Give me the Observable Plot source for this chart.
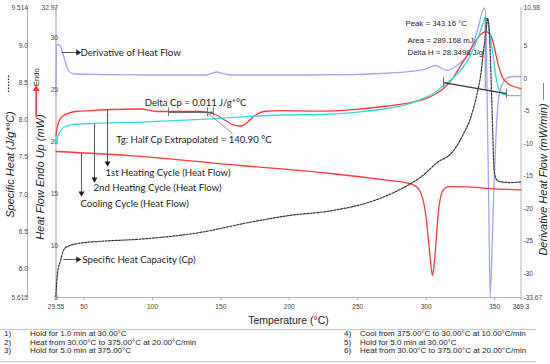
<!DOCTYPE html>
<html><head><meta charset="utf-8">
<script src="https://cdn.jsdelivr.net/npm/d3@7"></script>
<script src="https://cdn.jsdelivr.net/npm/@observablehq/plot@0.6"></script>
<style>
body{margin:0;background:#fff;}
#wrap{position:relative;width:550px;height:364px;overflow:hidden;font-family:"Liberation Sans",Arial,sans-serif;}
#wrap svg{position:absolute;left:0;top:0;}
.foot{position:absolute;font-size:8px;color:#222;white-space:nowrap;line-height:8.5px;}
.hr{position:absolute;left:0;width:536px;height:0;border-top:1.5px solid #c8c8c8;}
</style></head><body><div id="wrap"></div>
<script>
// ---- axis ticks ----
const xTicks = [29.55, 50, 100, 150, 200, 250, 300, 350, 369.3];
const xLabels = ["29.55", "50", "100", "150", "200", "250", "300", "350", "369.3"];
const hfTicks = [5, 10, 15, 20, 25, 30, 32.97];
const hfLabels = ["5", "10", "15", "20", "25", "30", "32.97"];
const cpTicks = [5.615, 6.0, 6.5, 7.0, 7.5, 8.0, 8.5, 9.0, 9.514];
const cpLabels = ["5.615", "6.0", "6.5", "7.0", "7.5", "8.0", "8.5", "9.0", "9.514"];
const derTicks = [-33.67, -30, -25, -20, -15, -10, -5, 0, 5, 10.98];
const derLabels = ["-33.67", "-30", "-25", "-20", "-15", "-10", "-5", "0", "5", "10.98"];

// ---- series (Temperature °C) ----
const heat1T = [29.55, 30.28, 31.38, 32.84, 35.03, 37.95, 43.8, 54.76, 69.37, 91.29, 97.1, 102.3, 135.1, 140.9, 146.1, 153.4, 159.2, 163.6, 167.3, 171.7, 176.0, 181.2, 193.6, 222.8, 246.9, 271.7, 288.5, 303.2, 312.7, 319.3, 325.2, 330.3, 335.4, 339.8, 343.5, 346.4, 348.6, 350.8, 353.0, 355.9, 359.6, 364.0, 369.3];
const heat1HF = [20.6, 21.3, 21.88, 22.26, 22.55, 22.74, 22.94, 23.03, 23.13, 23.18, 23.08, 22.94, 22.94, 22.84, 22.65, 22.07, 21.64, 21.54, 21.68, 22.17, 22.65, 22.94, 23.03, 22.98, 23.13, 23.47, 23.80, 24.38, 25.15, 26.12, 27.37, 28.43, 29.59, 30.36, 30.65, 30.46, 29.78, 28.53, 27.28, 26.22, 25.64, 25.35, 25.15];

const heat2T = [29.55, 30.65, 32.12, 34.3, 37.22, 41.6, 54.76, 91.29, 140.2, 193.6, 222.8, 246.9, 271.7, 283.4, 295.8, 305.4, 312.7, 323.0, 330.3, 336.1, 339.8, 342.0, 343.2, 345.0, 346.4, 348.6, 350.8, 353.0, 356.6, 361.8, 369.3];
const heat2HF = [19.95, 20.43, 20.91, 21.30, 21.54, 21.68, 21.78, 21.92, 22.21, 22.60, 22.65, 22.84, 23.23, 23.52, 24.09, 24.67, 25.44, 26.60, 27.85, 29.49, 30.75, 31.62, 32.0, 31.62, 30.46, 28.63, 26.41, 25.15, 24.62, 24.48, 24.48];

const coolT = [29.55, 84.0, 164.3, 230.1, 273.9, 284.8, 290.0, 294.4, 297.3, 299.5, 301.7, 303.5, 304.6, 306.1, 307.6, 309.0, 310.5, 312.7, 316.4, 330.3, 347.2, 369.3];
const coolHF = [19.08, 18.69, 17.73, 16.96, 16.28, 16.09, 15.90, 15.51, 14.64, 13.20, 10.50, 8.09, 7.12, 8.57, 10.98, 13.39, 14.64, 15.41, 15.70, 15.66, 15.51, 15.37];

const cpT = [29.55, 30.65, 32.84, 35.03, 37.95, 45.26, 62.1, 91.3, 135.1, 169.5, 200.9, 230.1, 262.2, 281.2, 295.8, 310.5, 315.7, 320.0, 327.4, 332.5, 336.9, 339.8, 342.0, 343.9, 344.9, 346.1, 347.5, 348.6, 349.7, 351.5, 354.5, 361.8, 369.3];
const cpV = [5.66, 5.94, 6.11, 6.25, 6.30, 6.34, 6.37, 6.40, 6.49, 6.62, 6.72, 6.78, 6.92, 7.07, 7.23, 7.46, 7.51, 7.59, 7.82, 8.03, 8.33, 8.60, 8.94, 9.23, 9.37, 9.20, 8.53, 7.86, 7.32, 7.20, 7.17, 7.16, 7.17];

const derT = [29.55, 29.77, 30.65, 32.12, 33.57, 35.03, 36.49, 37.95, 40.14, 43.8, 62.06, 98.59, 138.8, 143.2, 146.8, 151.2, 157.0, 208.2, 244.7, 266.6, 288.5, 299.5, 306.8, 310.5, 314.9, 319.3, 325.2, 330.3, 334.7, 338.4, 341.3, 342.8, 343.9, 344.6, 345.7, 346.8, 348.3, 349.7, 351.2, 352.7, 354.5, 356.6, 359.6, 365.4, 369.3];
const derV = [-1.03, 5.13, 5.28, 5.21, 4.67, 3.59, 2.51, 1.59, 0.97, 0.74, 0.66, 0.59, 0.59, 0.82, 1.05, 0.82, 0.59, 0.59, 0.66, 0.82, 1.13, 1.51, 2.05, 1.74, 1.28, 1.59, 2.51, 3.59, 5.59, 8.21, 10.52, 10.9, 7.44, -3.34, -18.74, -33.52, -24.89, -15.66, -7.96, -3.34, -1.49, -0.41, 0.20, 0.36, 0.36];

// ---- annotations ----
const labelTexts = ["Derivative of Heat Flow", "1st Heating Cycle (Heat Flow)", "2nd Heating Cycle (Heat Flow)", "Cooling Cycle (Heat Flow)", "Specific Heat Capacity (Cp)"];
const labelT = [47.45, 65.7, 56.95, 47.45, 48.9];
const labelHF = [28.63, 17.05, 15.56, 14.06, 8.66];
// pointer arrows: from (x1,y1) to head (x2,y2)
const ptrX1 = [33.57, 67.18, 57.68, 48.18, 35.03];
const ptrY1 = [28.63, 23.1, 21.73, 18.93, 8.66];
const ptrX2 = [45.6, 67.18, 57.68, 48.18, 45.6];
const ptrY2 = [28.63, 17.95, 16.4, 15.05, 8.66];
const ptrRot = [90, 180, 180, 180, 90];

const peakTexts = ["Peak = 343.16 °C", "Area = 289.168 mJ", "Delta H = 28.3498 J/g"];
const peakTextT = [284.9, 286.4, 286.4];
const peakTextHF = [31.42, 29.78, 28.67];

const stepNums = ["1)", "2)", "3)", "4)", "5)", "6)"];
const stepTexts = ["Hold for 1.0 min at 30.00°C", "Heat from 30.00°C to 375.00°C at 20.00°C/min", "Hold for 5.0 min at 375.00°C",
  "Cool from 375.00°C to 30.00°C at 10.00°C/min", "Hold for 5.0 min at 30.00°C", "Heat from 30.00°C to 375.00°C at 20.00°C/min"];

// ---- mapping of secondary axes onto the heat-flow scale ----
const Y0 = hfTicks[0], Y1 = hfTicks[hfTicks.length - 1];
const X0 = xTicks[0], X1 = xTicks[xTicks.length - 1];
const cpMin = cpTicks[0], cpMax = cpTicks[cpTicks.length - 1];
const dMin = derTicks[0], dMax = derTicks[derTicks.length - 1];
const cpToHF = c => Y0 + (c - cpMin) * (Y1 - Y0) / (cpMax - cpMin);
const derToHF = d => Y0 + (d - dMin) * (Y1 - Y0) / (dMax - dMin);

const heat1 = heat1T.map((t, i) => ({t, v: heat1HF[i]}));
const heat2 = heat2T.map((t, i) => ({t, v: heat2HF[i]}));
const cool = coolT.map((t, i) => ({t, v: coolHF[i]}));
const cp = cpT.map((t, i) => ({t, v: cpToHF(cpV[i])}));
const der = derT.map((t, i) => ({t, v: derToHF(derV[i])}));
const xTab = xTicks.map((v, i) => ({v, s: xLabels[i]}));
const hfTab = hfTicks.map((v, i) => ({v, s: hfLabels[i]}));
const cpTab = cpTicks.map((v, i) => ({v: cpToHF(v), s: cpLabels[i]}));
const dTab = derTicks.map((v, i) => ({v: derToHF(v), s: derLabels[i]}));
const labels = labelTexts.map((s, i) => ({s, t: labelT[i], v: labelHF[i]}));
const ptrs = ptrX1.map((x, i) => ({x1: x, y1: ptrY1[i], x2: ptrX2[i], y2: ptrY2[i], r: ptrRot[i]}));
const peaks = peakTexts.map((s, i) => ({s, t: peakTextT[i], v: peakTextHF[i]}));

const RED = "#ff3838", CYAN = "#2fdde3", BLUE = "#a2a2f2";
const tickFont = 6.6, annFont = "Lato, 'Open Sans', sans-serif";

const plot = Plot.plot({
  width: 550, height: 364,
  marginLeft: 55.5, marginRight: 29.5, marginTop: 7, marginBottom: 67,
  x: {domain: [X0, X1], axis: null},
  y: {domain: [Y0, Y1], axis: null},
  style: {fontFamily: "'Liberation Sans', Arial, sans-serif", background: "transparent", overflow: "visible"},
  marks: [
    // axis lines
    Plot.ruleX([X0], {y1: Y0, y2: Y1, stroke: "#999", strokeWidth: 1}),
    Plot.ruleX([X0], {y1: Y0, y2: Y1, dx: -28.5, stroke: "#b5b5b5", strokeWidth: 1}),
    Plot.ruleX([X1], {y1: Y0, y2: Y1, stroke: "#b5b5b5", strokeWidth: 1}),
    Plot.ruleY([Y0], {x1: X0, x2: X1, stroke: "#b5b5b5", strokeWidth: 1}),
    Plot.tickX(xTicks, {insetTop: 287, dy: 3, stroke: "#aaa"}),
    // tick labels
    Plot.text(xTab, {x: "v", y: Y0, text: "s", dy: 9, fontSize: tickFont, fill: "#444"}),
    Plot.text(hfTab, {x: X0, y: "v", text: "s", textAnchor: "end", dx: 2, fontSize: tickFont, fill: "#444"}),
    Plot.text(cpTab, {x: X0, y: "v", text: "s", textAnchor: "end", dx: -28, fontSize: tickFont, fill: "#444"}),
    Plot.text(dTab, {x: X1, y: "v", text: "s", textAnchor: "start", dx: 2.5, fontSize: tickFont, fill: "#444"}),
    // axis titles
    Plot.text(["Specific Heat (J/g*°C)"], {frameAnchor: "left", textAnchor: "middle", lineAnchor: "middle", dx: -45.5, dy: 12, rotate: -90, fontSize: 11, fontStyle: "italic", fill: "#222"}),
    Plot.text(["Heat Flow Endo Up (mW)"], {frameAnchor: "left", textAnchor: "middle", lineAnchor: "middle", dx: -16, dy: 24.5, rotate: -90, fontSize: 11, fontStyle: "italic", fill: "#222"}),
    Plot.text(["Derivative Heat Flow (mW/min)"], {frameAnchor: "right", textAnchor: "middle", lineAnchor: "middle", dx: 22, dy: 27, rotate: -90, fontSize: 11, fontStyle: "italic", fill: "#222"}),
    Plot.text(["Temperature (°C)"], {frameAnchor: "bottom", textAnchor: "middle", lineAnchor: "middle", dy: 23, fontSize: 10.5, fill: "#222"}),
    // legend cues beside the axis titles
    Plot.ruleX([X0], {y1: 24.77, y2: 26.41, dx: -47.5, stroke: "#222", strokeWidth: 1.2, strokeDasharray: "1.5,1.5"}),
    Plot.ruleX([X1], {y1: 24.0, y2: 25.64, dx: 22.5, stroke: "#888", strokeWidth: 1}),
    Plot.ruleX([X0], {y1: 22.36, y2: 24.9, dx: -19.8, stroke: RED, strokeWidth: 1.6}),
    Plot.dot([X0], {x: d => d, y: 25.1, dx: -19.8, symbol: "triangle", r: 2.6, fill: RED, stroke: null}),
    Plot.text(["Endo"], {x: X0, y: 26.26, dx: -19.5, rotate: -90, fontSize: 7.6, fill: "#333"}),
    // series
    Plot.line(der, {x: "t", y: "v", stroke: BLUE, strokeWidth: 1.3, curve: "monotone-x"}),
    Plot.line(cool, {x: "t", y: "v", stroke: RED, strokeWidth: 1.3, curve: "monotone-x"}),
    Plot.line(heat1, {x: "t", y: "v", stroke: RED, strokeWidth: 1.3, curve: "monotone-x"}),
    Plot.line(heat2, {x: "t", y: "v", stroke: CYAN, strokeWidth: 1.3, curve: "monotone-x"}),
    Plot.line(cp, {x: "t", y: "v", stroke: "#333", strokeWidth: 1.2, strokeDasharray: "2,1.4", curve: "monotone-x"}),
    // Delta Cp / Tg annotation
    Plot.ruleY([22.87], {x1: 111.74, x2: 144.62, stroke: "#444", strokeWidth: 1}),
    Plot.ruleX([111.74, 140.24, 144.62], {y1: 22.45, y2: 23.3, stroke: "#666", strokeWidth: 0.9}),
    Plot.link([0], {x1: 140.97, y1: 22.74, x2: 158.5, y2: 20.81, stroke: "#888", strokeWidth: 0.9}),
    Plot.text(["Delta Cp = 0.011 J/g*°C"], {x: 131.5, y: 23.8, fontFamily: annFont, fontSize: 9.6, fill: "#222"}),
    Plot.text(["Tg: Half Cp Extrapolated = 140.90 °C"], {x: 130.3, y: 20.24, fontFamily: annFont, fontSize: 9.6, fill: "#222"}),
    // peak annotation
    Plot.link([0], {x1: 312.67, y1: 25.73, x2: 358.7, y2: 24.67, stroke: "#333", strokeWidth: 1.2}),
    Plot.ruleX([312.67], {y1: 25.2, y2: 26.25, stroke: "#666", strokeWidth: 0.9}),
    Plot.ruleX([358.7], {y1: 24.2, y2: 25.1, stroke: "#666", strokeWidth: 0.9}),
    Plot.ruleX([343.16], {y1: 25.03, y2: 32.0, stroke: "#666", strokeWidth: 0.8}),
    Plot.text(peaks, {x: "t", y: "v", text: "s", textAnchor: "start", fontSize: 7.8, fill: "#222"}),
    // curve labels and pointers
    Plot.link(ptrs, {x1: "x1", y1: "y1", x2: "x2", y2: "y2", stroke: "#555", strokeWidth: 1}),
    Plot.dot(ptrs, {x: "x2", y: "y2", rotate: "r", symbol: "triangle", r: 2.2, fill: "#222", stroke: null}),
    Plot.text(labels, {x: "t", y: "v", text: "s", textAnchor: "start", fontFamily: annFont, fontSize: 9.6, fill: "#222"})
  ]
});
const wrap = document.getElementById("wrap");
wrap.appendChild(plot);

// footer with method steps
function hr(top) { const d = document.createElement("div"); d.className = "hr"; d.style.top = top + "px"; wrap.appendChild(d); }
hr(329); hr(361);
stepNums.forEach((n, i) => {
  const col = i < 3 ? 0 : 1, row = i % 3;
  const top = 330 + row * 8.5;
  const a = document.createElement("div"); a.className = "foot"; a.textContent = n;
  a.style.top = top + "px"; a.style.left = (col ? 344 : 4) + "px"; wrap.appendChild(a);
  const b = document.createElement("div"); b.className = "foot"; b.textContent = stepTexts[i];
  b.style.top = top + "px"; b.style.left = (col ? 360 : 30) + "px"; wrap.appendChild(b);
});
</script></body></html>
